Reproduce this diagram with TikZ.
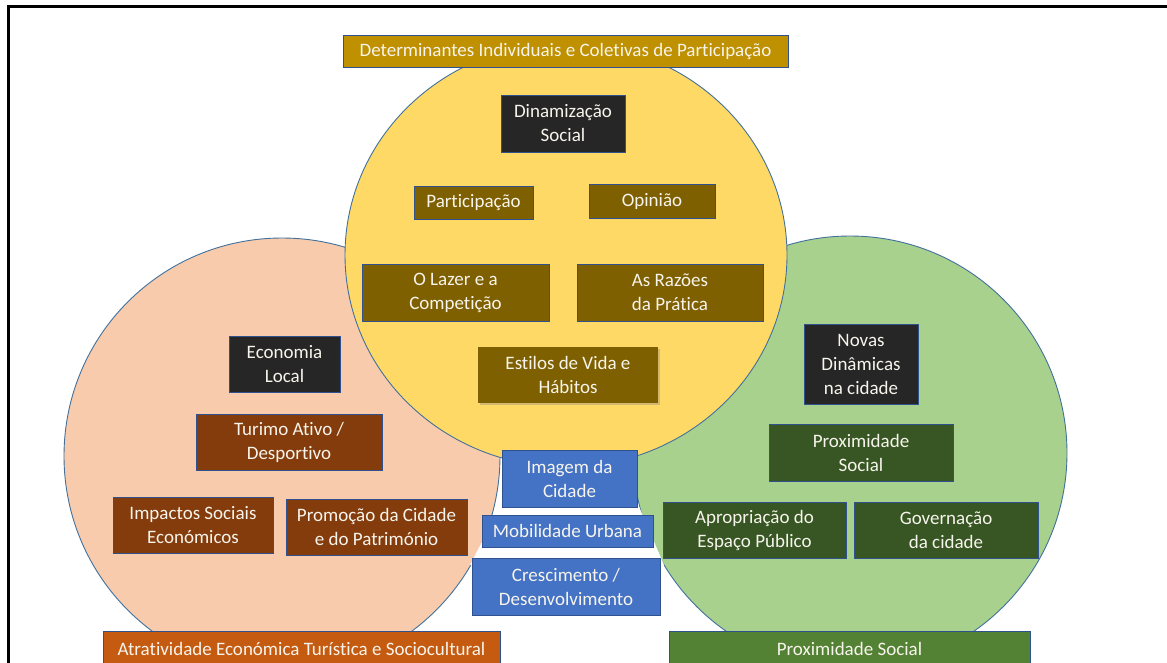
\documentclass[tikz,border=0pt]{standalone}
\usepackage{fontspec}
\setmainfont{Carlito}[Ligatures=NoCommon]
\usetikzlibrary{shadows}
\definecolor{ringline}{HTML}{41719C}
\definecolor{boxline}{HTML}{2F528F}
\definecolor{yellowfill}{HTML}{FFD966}
\definecolor{pinkfill}{HTML}{F8CBAD}
\definecolor{greenfill}{HTML}{A9D18E}
\definecolor{darkbox}{HTML}{262626}
\definecolor{goldbox}{HTML}{7F6000}
\definecolor{rustbox}{HTML}{843C0C}
\definecolor{forestbox}{HTML}{375623}
\definecolor{bluebox}{HTML}{4472C4}
\definecolor{titlegold}{HTML}{BF9000}
\definecolor{orangebar}{HTML}{C55A11}
\definecolor{greenbar}{HTML}{548235}
\definecolor{labeltext}{HTML}{F7F4EC}
\begin{document}
\begin{tikzpicture}[x=1pt,y=-1pt,
  box/.style={rectangle, draw=boxline, line width=0.9pt, inner sep=0pt,
    align=center, text=labeltext, font=\fontsize{19}{24}\selectfont},
  darkb/.style={box, fill=darkbox},
  goldb/.style={box, fill=goldbox},
  rustb/.style={box, fill=rustbox},
  forestb/.style={box, fill=forestbox},
  blueb/.style={box, fill=bluebox},
  ring/.style={draw=ringline, line width=0.9pt}]
\useasboundingbox (0,0) rectangle (1167,662);
\fill[white] (0,0) rectangle (1167,662);

% outer frame
\draw[line width=3pt] (8,670) -- (8,6.5) -- (1175,6.5);

% the three overlapping areas
\filldraw[ring, fill=pinkfill] (282,456) circle[radius=218];
\filldraw[ring, fill=greenfill] (850,453) circle[radius=217];
\filldraw[ring, fill=yellowfill] (566,255) ellipse[x radius=221, y radius=212];

% white base behind the central stack
\fill[white] (506,495) -- (634,495) -- (664,565) -- (470,565) -- cycle;

% participation area
\node[darkb, minimum width=124, minimum height=57] (dyn) at (563,123.5) {Dinamização\\Social};
\node[goldb, minimum width=119, minimum height=33] (part) at (473.5,202.5) {Participação};
\node[goldb, minimum width=126, minimum height=34] (opin) at (652,201) {Opinião};
\node[goldb, minimum width=187, minimum height=57] (lazer) at (455.5,292.5) {O Lazer e a\\Competição};
\node[goldb, minimum width=186, minimum height=57] (razoes) at (670,292.5) {As Razões\\ da Prática};
\node[goldb, draw=none, minimum width=180, minimum height=56,
  drop shadow={opacity=0.35, shadow xshift=2pt, shadow yshift=-2pt}] (estilos) at (568,375) {Estilos de Vida e\\Hábitos};

% economic area
\node[darkb, minimum width=111, minimum height=56] (econ) at (284.5,364) {Economia\\Local};
\node[rustb, minimum width=186, minimum height=56] (turismo) at (289,442) {Turimo Ativo /\\Desportivo};
\node[rustb, minimum width=160, minimum height=56] (impactos) at (193,525) {Impactos Sociais\\Económicos};
\node[rustb, minimum width=181, minimum height=56] (promo) at (376.5,527) {Promoção da Cidade\\e do Património};

% social area
\node[darkb, minimum width=114, minimum height=80] (novas) at (861,364) {Novas\\Dinâmicas\\na cidade};
\node[forestb, minimum width=184, minimum height=57] (prox) at (861,452.5) {Proximidade\\Social};
\node[forestb, minimum width=183, minimum height=56] (aprop) at (754.5,530) {Apropriação do\\Espaço Público};
\node[forestb, minimum width=184, minimum height=56] (gov) at (946,530) {Governação\\ da cidade};

% central stack
\node[blueb, minimum width=135, minimum height=57] (imagem) at (569.5,478.5) {Imagem da\\Cidade};
\node[blueb, minimum width=171, minimum height=32] (mobil) at (567.5,531) {Mobilidade Urbana};
\node[blueb, minimum width=188, minimum height=57] (cresc) at (566,586.5) {Crescimento /\\Desenvolvimento};

% area titles
\node[box, fill=titlegold, minimum width=445, minimum height=32] (titulo) at (565.5,51) {Determinantes Individuais e Coletivas de Participação};
\node[box, fill=orangebar, minimum width=397, minimum height=35] (atrat) at (301.5,648.5) {Atratividade Económica Turística e Sociocultural};
\node[box, fill=greenbar, minimum width=361, minimum height=35] (proxbar) at (849.5,648.5) {Proximidade Social};
\end{tikzpicture}
\end{document}
